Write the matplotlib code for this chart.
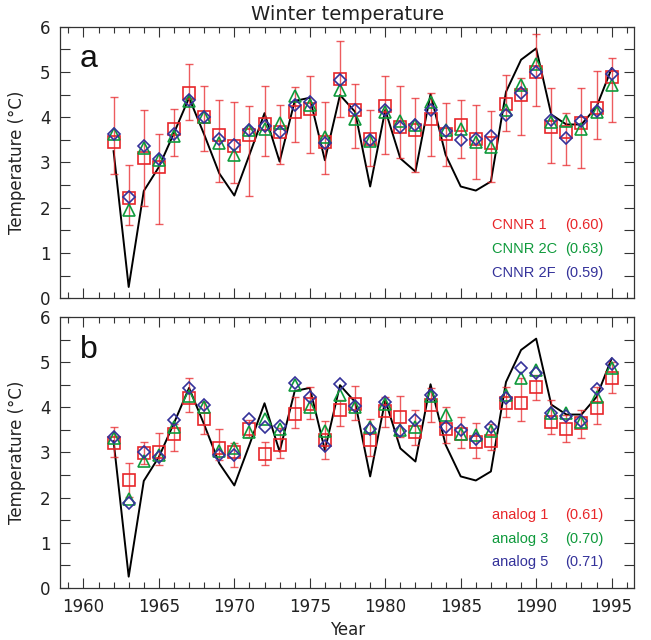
"""
Winter temperature: observed series vs. CNNR and analog predictions.
"""

import numpy as np
import matplotlib

matplotlib.use("Agg")
import matplotlib.pyplot as plt
from matplotlib.ticker import MultipleLocator


RED = "#e8262a"
GREEN = "#0f9a3c"
BLUE = "#34329a"

years = np.arange(1962, 1996)

# observed temperature (black line, same in both panels)
observed = [
    3.25, 0.25, 2.37, 2.90, 3.65, 4.43, 3.62, 2.76, 2.27, 3.17,
    4.09, 3.02, 4.36, 4.43, 3.05, 4.49, 4.12, 2.47, 4.16, 3.09,
    2.80, 4.51, 3.17, 2.47, 2.38, 2.58, 4.56, 5.27, 5.52, 4.06,
    3.84, 3.84, 4.23, 5.08,
]

# panel a
cnnr1 = [
    3.46, 2.22, 3.11, 2.91, 3.75, 4.53, 4.00, 3.61, 3.36, 3.61,
    3.84, 3.68, 4.12, 4.18, 3.46, 4.84, 4.16, 3.52, 4.25, 3.79,
    3.72, 3.96, 3.64, 3.83, 3.53, 3.42, 4.30, 4.49, 4.99, 3.79,
    3.68, 3.87, 4.20, 4.89,
]
cnnr1_low = [
    2.75, 1.62, 2.05, 1.65, 3.15, 3.93, 3.25, 2.58, 2.55, 2.26,
    3.15, 2.97, 3.45, 3.20, 2.75, 4.01, 3.33, 2.93, 3.18, 3.11,
    2.80, 3.14, 2.92, 3.11, 2.63, 2.58, 3.70, 3.61, 4.25, 2.98,
    2.94, 2.88, 3.52, 3.90,
]
cnnr1_high = [
    4.44, 2.94, 4.17, 3.64, 4.18, 5.17, 4.70, 4.37, 4.34, 4.25,
    4.70, 4.27, 4.67, 4.92, 4.34, 5.68, 4.73, 4.17, 4.90, 4.70,
    4.42, 4.53, 4.31, 4.39, 4.27, 4.14, 4.93, 4.87, 5.84, 4.64,
    4.10, 4.65, 5.02, 5.30,
]
cnnr2c = [
    3.62, 1.95, 3.32, 3.05, 3.59, 4.36, 4.00, 3.42, 3.17, 3.72,
    3.74, 3.88, 4.47, 4.27, 3.57, 4.60, 3.96, 3.48, 4.11, 3.92,
    3.83, 4.33, 3.71, 3.73, 3.45, 3.35, 4.16, 4.71, 5.17, 3.90,
    3.91, 3.75, 4.11, 4.71,
]
cnnr2f = [
    3.64, 2.24, 3.37, 3.08, 3.64, 4.37, 4.00, 3.53, 3.38, 3.72,
    3.80, 3.68, 4.27, 4.34, 3.44, 4.82, 4.17, 3.50, 4.16, 3.79,
    3.83, 4.17, 3.69, 3.50, 3.53, 3.59, 4.06, 4.54, 4.99, 3.94,
    3.55, 3.91, 4.13, 4.95,
]

# panel b
analog1 = [
    3.22, 2.40, 2.99, 3.01, 3.40, 4.21, 3.75, 3.09, 3.02, 3.53,
    2.96, 3.16, 3.85, 4.07, 3.27, 3.93, 4.08, 3.27, 3.92, 3.78,
    3.46, 4.05, 3.53, 3.42, 3.24, 3.26, 4.09, 4.10, 4.45, 3.68,
    3.53, 3.66, 3.98, 4.64,
]
analog1_low = [
    2.90, 2.02, 2.74, 2.73, 3.04, 3.90, 3.41, 2.83, 2.68, 3.35,
    2.72, 2.87, 3.55, 3.74, 2.85, 3.58, 3.73, 2.93, 3.57, 3.35,
    3.16, 3.68, 3.20, 3.10, 2.87, 3.05, 3.79, 3.70, 4.16, 3.41,
    3.24, 3.33, 3.63, 4.32,
]
analog1_high = [
    3.57, 2.77, 3.24, 3.44, 3.63, 4.64, 4.12, 3.53, 3.20, 3.72,
    3.24, 3.55, 4.22, 4.45, 3.69, 4.16, 4.48, 3.75, 4.22, 4.26,
    3.94, 4.42, 4.00, 3.78, 3.66, 3.64, 4.45, 4.64, 4.71, 4.16,
    3.83, 3.94, 4.45, 5.01,
]
analog3 = [
    3.33, 1.96, 2.82, 2.94, 3.57, 4.25, 4.00, 3.04, 3.10, 3.46,
    3.75, 3.53, 4.49, 4.01, 3.47, 4.28, 4.00, 3.57, 4.07, 3.49,
    3.57, 4.25, 3.84, 3.42, 3.38, 3.48, 4.27, 4.66, 4.82, 3.87,
    3.87, 3.68, 4.23, 4.86,
]
analog5 = [
    3.35, 1.89, 3.01, 2.90, 3.72, 4.42, 4.05, 2.94, 2.94, 3.75,
    3.57, 3.58, 4.53, 4.23, 3.15, 4.51, 4.03, 3.53, 4.12, 3.48,
    3.72, 4.27, 3.57, 3.50, 3.29, 3.57, 4.20, 4.86, 4.76, 3.88,
    3.81, 3.70, 4.40, 4.96,
]

legend_a = [("CNNR 1", "(0.60)"), ("CNNR 2C", "(0.63)"), ("CNNR 2F", "(0.59)")]
legend_b = [("analog 1", "(0.61)"), ("analog 3", "(0.70)"), ("analog 5", "(0.71)")]

FONT = "DejaVu Sans"
LEGEND_FONT = "Liberation Sans"


def plot_panel(ax, sq, sq_low, sq_high, tri, dia, letter, legend):
    """Draw one panel: observed line, error bars and three marker series."""
    ax.plot(years, observed, color="black", linewidth=1.4, zorder=2)

    sq = np.array(sq)
    yerr = [sq - np.array(sq_low), np.array(sq_high) - sq]
    ax.errorbar(
        years, sq, yerr=yerr, fmt="none", ecolor=RED, elinewidth=1.0,
        capsize=3, capthick=1.0, alpha=0.75, zorder=3,
    )
    ax.plot(years, sq, linestyle="none", marker="s", markersize=9,
            markerfacecolor="none", markeredgecolor=RED,
            markeredgewidth=1.2, zorder=4)
    ax.plot(years, tri, linestyle="none", marker="^", markersize=9,
            markerfacecolor="none", markeredgecolor=GREEN,
            markeredgewidth=1.2, zorder=5)
    ax.plot(years, dia, linestyle="none", marker="D", markersize=6.5,
            markerfacecolor="none", markeredgecolor=BLUE,
            markeredgewidth=1.2, zorder=6)

    ax.set_xlim(1958.45, 1996.5)
    ax.set_ylim(0, 6)
    ax.xaxis.set_major_locator(MultipleLocator(5))
    ax.xaxis.set_minor_locator(MultipleLocator(1))
    ax.yaxis.set_major_locator(MultipleLocator(1))
    ax.yaxis.set_minor_locator(MultipleLocator(0.5))
    ax.tick_params(axis="both", which="both", direction="in",
                   top=True, right=True, width=0.8, color="#333333")
    ax.tick_params(axis="x", which="major", length=7)
    ax.tick_params(axis="x", which="minor", length=4)
    ax.tick_params(axis="y", which="both", length=7)
    ax.tick_params(axis="both", labelsize=12, pad=7)
    for lab in ax.get_xticklabels() + ax.get_yticklabels():
        lab.set_fontfamily(FONT)
        lab.set_color("#222222")
    for spine in ax.spines.values():
        spine.set_linewidth(0.9)
        spine.set_color("#333333")

    ax.set_ylabel("Temperature (\u00b0C)", fontsize=12, labelpad=10,
                  family=FONT, color="#222222")

    ax.text(0.035, 0.85, letter, transform=ax.transAxes, fontsize=23,
            family="Liberation Sans", color="#111111", va="baseline")

    for i, (name, value) in enumerate(legend):
        color = [RED, GREEN, BLUE][i]
        y = 0.27 - i * 0.088
        ax.text(0.752, y, name, transform=ax.transAxes, fontsize=10.5,
                color=color, family=LEGEND_FONT, va="center")
        ax.text(0.88, y, value, transform=ax.transAxes, fontsize=10.5,
                color=color, family=LEGEND_FONT, va="center")


fig = plt.figure(figsize=(6.51, 6.40), dpi=100)
ax_a = fig.add_axes([0.0922, 0.5339, 0.8821, 0.4244])
ax_b = fig.add_axes([0.0922, 0.0813, 0.8821, 0.4234])

plot_panel(ax_a, cnnr1, cnnr1_low, cnnr1_high, cnnr2c, cnnr2f, "a", legend_a)
plot_panel(ax_b, analog1, analog1_low, analog1_high, analog3, analog5,
           "b", legend_b)

ax_a.set_xticklabels([])
ax_a.set_title("Winter temperature", fontsize=14, family=FONT,
               color="#222222", pad=5)
ax_b.set_xlabel("Year", fontsize=12, family=FONT, color="#222222",
                labelpad=4)

fig.savefig("out.png", dpi=100)
